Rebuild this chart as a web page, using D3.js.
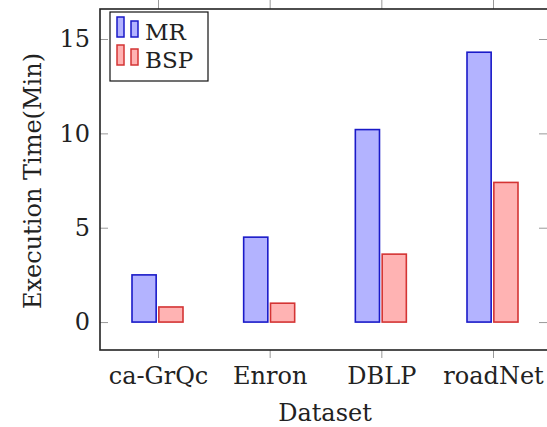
<!DOCTYPE html>
<html>
<head>
<meta charset="utf-8">
<script src="https://cdn.jsdelivr.net/npm/d3@7"></script>
<style>
  body { margin: 0; background: #fff; }
  text { font-family: "DejaVu Serif", serif; fill: #222; }
</style>
</head>
<body>
<svg width="547" height="427"></svg>
<script>
// data
var datasets = ["ca-GrQc", "Enron", "DBLP", "roadNet"];
var seriesNames = ["MR", "BSP"];
var mrValues = [2.5, 4.5, 10.2, 14.3];
var bspValues = [0.8, 1.0, 3.6, 7.4];
var yTicks = [0, 5, 10, 15];

var colors = {
  MR: { fill: "#b3b3ff", stroke: "#1a1ac8" },
  BSP: { fill: "#ffb3b3", stroke: "#d43434" }
};

var svg = d3.select("svg");
var plotLeft = 100, plotRight = 548, plotTop = 9, plotBottom = 350;
var fontSize = 24;

var x = d3.scalePoint().domain(datasets).range([158, 493]);
var xs = d3.scaleBand().domain(seriesNames).range([-26, 25]).paddingInner(0.1);
var y = d3.scaleLinear().domain([-1.48, 16.59]).range([plotBottom, plotTop]);

var rows = datasets.map(function (d, i) {
  return { name: d, MR: mrValues[i], BSP: bspValues[i] };
});

// bars
var groups = svg.append("g").selectAll("g")
  .data(rows)
  .enter()
  .append("g")
  .attr("transform", function (d) { return "translate(" + x(d.name) + ",0)"; });

groups.selectAll("rect")
  .data(function (d) {
    return seriesNames.map(function (s) { return { key: s, value: d[s] }; });
  })
  .enter()
  .append("rect")
  .attr("x", function (d) { return xs(d.key); })
  .attr("width", xs.bandwidth())
  .attr("y", function (d) { return y(d.value); })
  .attr("height", function (d) { return y(0) - y(d.value); })
  .attr("fill", function (d) { return colors[d.key].fill; })
  .attr("stroke", function (d) { return colors[d.key].stroke; })
  .attr("stroke-width", 1.6);

// axes, ticks drawn like pgfplots (x outside, y inside)
var gx = svg.append("g").attr("transform", "translate(0," + plotBottom + ")")
  .call(d3.axisBottom(x).tickSizeInner(8).tickSizeOuter(0).tickPadding(9));
gx.select(".domain").remove();
gx.selectAll("line").attr("stroke", "#999");
gx.selectAll("text").attr("font-size", fontSize).attr("font-family", "DejaVu Serif").attr("fill", "#222");

var gxTop = svg.append("g").attr("transform", "translate(0," + plotTop + ")")
  .call(d3.axisTop(x).tickSizeInner(10).tickSizeOuter(0).tickFormat(""));
gxTop.select(".domain").remove();
gxTop.selectAll("line").attr("stroke", "#999");

var gy = svg.append("g").attr("transform", "translate(" + plotLeft + ",0)")
  .call(d3.axisLeft(y).tickValues(yTicks).tickSizeInner(-8).tickSizeOuter(0).tickPadding(10));
gy.select(".domain").remove();
gy.selectAll("line").attr("stroke", "#999");
gy.selectAll("text").attr("font-size", fontSize).attr("font-family", "DejaVu Serif").attr("fill", "#222");

var gyRight = svg.append("g").attr("transform", "translate(" + plotRight + ",0)")
  .call(d3.axisRight(y).tickValues(yTicks).tickSizeInner(-9).tickSizeOuter(0).tickFormat(""));
gyRight.select(".domain").remove();
gyRight.selectAll("line").attr("stroke", "#999");

// frame
svg.append("rect")
  .attr("x", plotLeft).attr("y", plotTop)
  .attr("width", plotRight - plotLeft).attr("height", plotBottom - plotTop)
  .attr("fill", "none").attr("stroke", "#222").attr("stroke-width", 1.6);

// axis labels
svg.append("text")
  .attr("x", 325).attr("y", 421)
  .attr("text-anchor", "middle")
  .attr("font-size", fontSize)
  .text("Dataset");

svg.append("text")
  .attr("transform", "translate(41,181) rotate(-90)")
  .attr("text-anchor", "middle")
  .attr("font-size", fontSize)
  .text("Execution Time(Min)");

// legend
var legend = svg.append("g").attr("transform", "translate(110,12)");
legend.append("rect")
  .attr("width", 98).attr("height", 69)
  .attr("fill", "#fff").attr("stroke", "#111").attr("stroke-width", 1.2);

var entry = legend.selectAll("g.entry")
  .data(seriesNames)
  .enter()
  .append("g")
  .attr("class", "entry")
  .attr("transform", function (d, i) { return "translate(0," + (i * 28) + ")"; });

entry.append("rect")
  .attr("x", 7).attr("y", 5).attr("width", 7).attr("height", 20)
  .attr("fill", function (d) { return colors[d].fill; })
  .attr("stroke", function (d) { return colors[d].stroke; })
  .attr("stroke-width", 1.5);
entry.append("rect")
  .attr("x", 21).attr("y", 9).attr("width", 7).attr("height", 16)
  .attr("fill", function (d) { return colors[d].fill; })
  .attr("stroke", function (d) { return colors[d].stroke; })
  .attr("stroke-width", 1.5);
entry.append("text")
  .attr("x", 35).attr("y", 28)
  .attr("font-size", fontSize - 1)
  .text(function (d) { return d; });
</script>
</body>
</html>
